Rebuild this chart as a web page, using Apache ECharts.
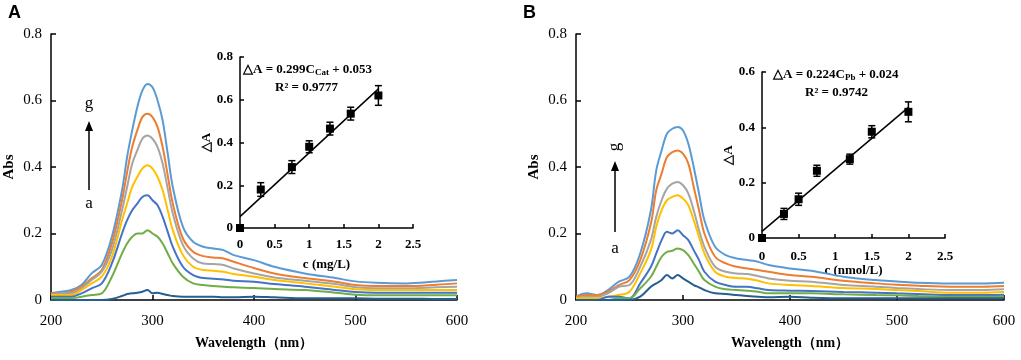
<!DOCTYPE html>
<html>
<head>
<meta charset="utf-8">
<script src="https://cdn.jsdelivr.net/npm/echarts@6/dist/echarts.min.js"></script>
<style>
html, body { margin: 0; padding: 0; background: #fff; }
#chart { width: 1021px; height: 360px; }
</style>
</head>
<body>
<div id="chart"></div>
<script>
// wavelength sample points (nm), shared by both panels
var wavelength = [200,210,220,230,240,250,260,270,275,280,285,290,295,300,305,310,315,320,330,340,350,360,370,380,400,420,450,480,500,520,550,580,600];

// panel A spectra, curve a (bottom) .. g (top)
var absA_a = [0,0,0,0,0,0,0.003,0.012,0.018, 0.02,0.022,0.025,0.03,0.02,0.022,0.018,0.015, 0.012,0.01,0.01,0.01,0.01,0.008,0.008, 0.01,0.008,0.005,0.005,0.005,0.004,0.004,0.003,0.003];
var absA_b = [0.005,0.005,0.005,0.01,0.015,0.02,0.07,0.14,0.17, 0.19,0.2,0.2,0.21,0.2,0.19,0.17,0.14, 0.11,0.07,0.05,0.045,0.042,0.04,0.038, 0.036,0.033,0.03,0.022,0.016,0.014,0.014,0.014,0.014];
var absA_c = [0.01,0.01,0.01,0.02,0.035,0.05,0.11,0.2,0.24, 0.27,0.29,0.31,0.315,0.3,0.285,0.25,0.205, 0.16,0.1,0.075,0.066,0.064,0.062,0.058, 0.055,0.048,0.04,0.03,0.024,0.022,0.022,0.022,0.022];
var absA_d = [0.015,0.015,0.015,0.03,0.05,0.07,0.13,0.24,0.29, 0.34,0.37,0.395,0.405,0.395,0.37,0.33,0.27, 0.21,0.135,0.1,0.09,0.088,0.085,0.078, 0.07,0.06,0.05,0.04,0.032,0.03,0.03,0.03,0.03];
var absA_e = [0.015,0.02,0.02,0.035,0.06,0.085,0.15,0.27,0.34, 0.41,0.45,0.485,0.495,0.485,0.46,0.41,0.335, 0.26,0.165,0.125,0.11,0.108,0.105,0.095, 0.08,0.068,0.058,0.048,0.038,0.035,0.035,0.038,0.04];
var absA_f = [0.02,0.02,0.025,0.04,0.065,0.09,0.17,0.3,0.385, 0.46,0.51,0.55,0.56,0.55,0.52,0.46,0.375, 0.29,0.185,0.145,0.132,0.128,0.125,0.115, 0.096,0.08,0.066,0.055,0.045,0.042,0.042,0.046,0.05];
var absA_g = [0.02,0.025,0.03,0.045,0.08,0.105,0.19,0.33,0.43, 0.51,0.58,0.63,0.65,0.64,0.6,0.54,0.44, 0.34,0.22,0.175,0.16,0.155,0.15,0.135, 0.12,0.1,0.08,0.066,0.056,0.052,0.05,0.056,0.06];

// panel B spectra
var absB_a = [0,0,0,0,0,0,0.01,0.04,0.05, 0.06,0.075,0.065,0.075,0.065,0.055,0.045,0.038, 0.03,0.02,0.018,0.015,0.012,0.01,0.008, 0.01,0.007,0.005,0.005,0.005,0.005,0.005,0.005,0.005];
var absB_b = [0,0,0,0,0.005,0.005,0.035,0.07,0.1, 0.13,0.145,0.148,0.155,0.15,0.135,0.11,0.085, 0.06,0.04,0.032,0.03,0.028,0.025,0.02, 0.02,0.02,0.017,0.015,0.014,0.012,0.01,0.01,0.01];
var absB_c = [0,0,0,0.01,0.01,0.005,0.05,0.1,0.14, 0.18,0.205,0.2,0.21,0.195,0.18,0.15,0.12, 0.085,0.055,0.045,0.04,0.04,0.035,0.03, 0.028,0.027,0.024,0.022,0.02,0.018,0.015,0.015,0.016];
var absB_d = [0.005,0.005,0.005,0.01,0.015,0.025,0.08,0.15,0.22, 0.27,0.3,0.31,0.315,0.305,0.285,0.24,0.19, 0.14,0.085,0.07,0.066,0.064,0.058,0.05, 0.045,0.042,0.036,0.033,0.03,0.027,0.022,0.022,0.024];
var absB_e = [0.005,0.01,0.01,0.02,0.04,0.045,0.1,0.18,0.25, 0.3,0.335,0.35,0.355,0.345,0.32,0.27,0.21, 0.16,0.1,0.085,0.08,0.078,0.072,0.065, 0.058,0.055,0.045,0.04,0.036,0.033,0.03,0.03,0.032];
var absB_f = [0.01,0.015,0.015,0.025,0.045,0.06,0.12,0.23,0.33, 0.38,0.43,0.445,0.45,0.44,0.41,0.34,0.27, 0.2,0.13,0.11,0.1,0.095,0.09,0.085, 0.075,0.07,0.058,0.05,0.046,0.043,0.04,0.04,0.042];
var absB_g = [0.01,0.02,0.015,0.03,0.055,0.07,0.14,0.27,0.39, 0.45,0.5,0.515,0.52,0.51,0.47,0.4,0.32, 0.24,0.16,0.135,0.125,0.12,0.115,0.105, 0.095,0.088,0.07,0.06,0.056,0.052,0.05,0.05,0.052];

// calibration insets
var concA = [0, 0.3, 0.75, 1, 1.3, 1.6, 2];
var deltaA = [0, 0.18, 0.285, 0.38, 0.465, 0.535, 0.62];
var errA = [0, 0.032, 0.03, 0.028, 0.03, 0.03, 0.046];
var fitA = { slope: 0.299, intercept: 0.053 };

var concB = [0, 0.3, 0.5, 0.75, 1.2, 1.5, 2];
var deltaB = [0, 0.087, 0.14, 0.243, 0.285, 0.384, 0.456];
var errB = [0, 0.02, 0.022, 0.02, 0.018, 0.022, 0.036];
var fitB = { slope: 0.224, intercept: 0.024 };

var curveColors = ['#255E91', '#70AD47', '#4472C4', '#FFC000', '#A5A5A5', '#ED7D31', '#5B9BD5'];
var serif = '"Liberation Serif", "Times New Roman", serif';

function pairs(xs, ys) {
    return xs.map(function (x, i) { return [x, ys[i]]; });
}

function errorBar(params, api) {
    var top = api.coord([api.value(0), api.value(2)]);
    var bot = api.coord([api.value(0), api.value(1)]);
    var w = 3.5;
    var st = { stroke: '#000', lineWidth: 1.5 };
    return {
        type: 'group',
        children: [
            { type: 'line', shape: { x1: top[0], y1: top[1], x2: bot[0], y2: bot[1] }, style: st },
            { type: 'line', shape: { x1: top[0] - w, y1: top[1], x2: top[0] + w, y2: top[1] }, style: st },
            { type: 'line', shape: { x1: bot[0] - w, y1: bot[1], x2: bot[0] + w, y2: bot[1] }, style: st }
        ]
    };
}

function mainX(grid) {
    return {
        gridIndex: grid, type: 'value', min: 200, max: 600, interval: 100,
        name: 'Wavelength（nm）', nameLocation: 'middle', nameGap: 36,
        nameTextStyle: { color: '#000', fontSize: 14, fontWeight: 'bold', fontFamily: serif },
        axisLine: { lineStyle: { color: '#000', width: 1.5 } },
        axisTick: { inside: true, length: 5, lineStyle: { color: '#000', width: 1.5 } },
        axisLabel: { color: '#000', fontSize: 15, fontFamily: serif, margin: 14 },
        splitLine: { show: false }
    };
}
function mainY(grid) {
    return {
        gridIndex: grid, type: 'value', min: 0, max: 0.8, interval: 0.2,
        name: 'Abs', nameLocation: 'middle', nameGap: 34,
        nameTextStyle: { color: '#000', fontSize: 15, fontWeight: 'bold', fontFamily: serif },
        axisLine: { show: true, lineStyle: { color: '#000', width: 1.5 } },
        axisTick: { show: true, inside: true, length: 5, lineStyle: { color: '#000', width: 1.5 } },
        axisLabel: { color: '#000', fontSize: 15, fontFamily: serif, margin: 9 },
        splitLine: { show: false }
    };
}
function insetX(grid, name, gap, margin) {
    return {
        gridIndex: grid, type: 'value', min: 0, max: 2.5, interval: 0.5,
        name: name, nameLocation: 'middle', nameGap: gap,
        nameTextStyle: { color: '#000', fontSize: 13, fontWeight: 'bold', fontFamily: serif },
        axisLine: { lineStyle: { color: '#000', width: 1.5 } },
        axisTick: { inside: true, length: 4, lineStyle: { color: '#000', width: 1.5 } },
        axisLabel: { color: '#000', fontSize: 13, fontWeight: 'bold', fontFamily: serif, margin: margin },
        splitLine: { show: false }
    };
}
function insetY(grid, max) {
    return {
        gridIndex: grid, type: 'value', min: 0, max: max, interval: 0.2,
        name: '△A', nameLocation: 'middle', nameGap: 26,
        nameTextStyle: { color: '#000', fontSize: 13, fontWeight: 'bold', fontFamily: serif },
        axisLine: { show: true, lineStyle: { color: '#000', width: 1.5 } },
        axisTick: { show: true, inside: true, length: 4, lineStyle: { color: '#000', width: 1.5 } },
        axisLabel: { color: '#000', fontSize: 13, fontWeight: 'bold', fontFamily: serif, margin: 7 },
        splitLine: { show: false }
    };
}

function spectra(grid, list) {
    return list.map(function (arr, i) {
        return {
            type: 'line', xAxisIndex: grid, yAxisIndex: grid,
            data: pairs(wavelength, arr), smooth: 0.35, symbol: 'none',
            lineStyle: { color: curveColors[i], width: 2 }, z: 2 + (6 - i) * 0.1
        };
    });
}
function calibration(grid, conc, delta, err, fit) {
    return [
        {
            type: 'line', xAxisIndex: grid, yAxisIndex: grid, symbol: 'none',
            data: [[0, fit.intercept], [2, fit.slope * 2 + fit.intercept]],
            lineStyle: { color: '#000', width: 1.5 }, z: 5
        },
        {
            type: 'custom', xAxisIndex: grid, yAxisIndex: grid, renderItem: errorBar,
            encode: { x: 0, y: [1, 2] }, z: 6,
            data: conc.map(function (c, i) { return [c, delta[i] - err[i], delta[i] + err[i]]; })
        },
        {
            type: 'scatter', xAxisIndex: grid, yAxisIndex: grid, symbol: 'rect', symbolSize: 8,
            itemStyle: { color: '#000', opacity: 1 }, data: pairs(conc, delta), z: 7
        }
    ];
}

function eq(x, y, main, sub, tail) {
    return {
        type: 'text', x: x, y: y,
        style: {
            text: '{m|' + main + '}{s|' + sub + '}{m|' + tail + '}',
            verticalAlign: 'middle',
            rich: {
                m: { fontSize: 13, fontWeight: 'bold', fontFamily: serif, fill: '#000', lineHeight: 15 },
                s: { fontSize: 9, fontWeight: 'bold', fontFamily: serif, fill: '#000', lineHeight: 15, verticalAlign: 'bottom', padding: [3, 0, 0, 0] }
            }
        }
    };
}
function label(x, y, text, size, rot) {
    return {
        type: 'text', x: x, y: y, rotation: rot || 0,
        style: { text: text, fill: '#000', fontSize: size, fontFamily: serif, align: 'center', verticalAlign: 'middle' }
    };
}
function arrow(x, y1, y2) {
    return [
        { type: 'line', shape: { x1: x, y1: y1, x2: x, y2: y2 + 8 }, style: { stroke: '#000', lineWidth: 1.5 } },
        { type: 'polygon', shape: { points: [[x, y2], [x - 4, y2 + 10], [x + 4, y2 + 10]] }, style: { fill: '#000' } }
    ];
}

var chart = echarts.init(document.getElementById('chart'));
var option = {
    animation: false,
    backgroundColor: '#fff',
    grid: [
        { left: 51, top: 34, width: 406, height: 266, outerBoundsMode: 'none' },
        { left: 240, top: 57, width: 173, height: 171, outerBoundsMode: 'none' },
        { left: 576, top: 34, width: 428, height: 266, outerBoundsMode: 'none' },
        { left: 762, top: 72, width: 183, height: 166, outerBoundsMode: 'none' }
    ],
    xAxis: [mainX(0), insetX(1, 'c (mg/L)', 30, 10), mainX(2), insetX(3, 'c (nmol/L)', 25, 12)],
    yAxis: [mainY(0), insetY(1, 0.8), mainY(2), insetY(3, 0.6)],
    series: []
        .concat(spectra(0, [absA_a, absA_b, absA_c, absA_d, absA_e, absA_f, absA_g]))
        .concat(calibration(1, concA, deltaA, errA, fitA))
        .concat(spectra(2, [absB_a, absB_b, absB_c, absB_d, absB_e, absB_f, absB_g]))
        .concat(calibration(3, concB, deltaB, errB, fitB)),
    graphic: [
        { type: 'text', x: 8, y: 4, style: { text: 'A', fill: '#000', fontSize: 18, fontWeight: 'bold', fontFamily: '"Liberation Sans", Arial, sans-serif' } },
        { type: 'text', x: 523, y: 4, style: { text: 'B', fill: '#000', fontSize: 18, fontWeight: 'bold', fontFamily: '"Liberation Sans", Arial, sans-serif' } },
        label(89, 104, 'g', 17, 0),
        label(89, 204, 'a', 17, 0),
        label(615, 147, 'g', 17, Math.PI / 2),
        label(615, 249, 'a', 17, 0),
        eq(243, 70, '△A = 0.299C', 'Cat', ' + 0.053'),
        { type: 'text', x: 275, y: 88, style: { text: 'R² = 0.9777', fill: '#000', fontSize: 13, fontWeight: 'bold', fontFamily: serif, verticalAlign: 'middle' } },
        eq(773, 75, '△A = 0.224C', 'Pb', ' + 0.024'),
        { type: 'text', x: 805, y: 93, style: { text: 'R² = 0.9742', fill: '#000', fontSize: 13, fontWeight: 'bold', fontFamily: serif, verticalAlign: 'middle' } }
    ].concat(arrow(89, 190, 121)).concat(arrow(615, 232, 161))
};
chart.setOption(option);
</script>
</body>
</html>
